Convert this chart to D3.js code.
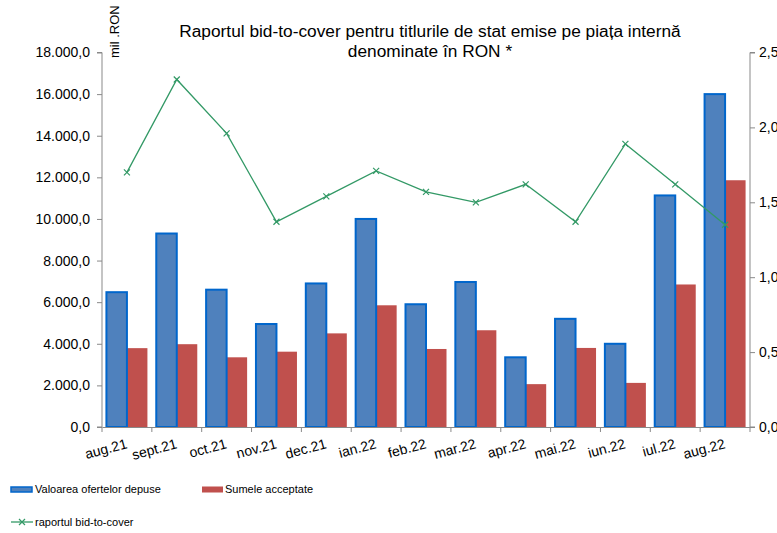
<!DOCTYPE html>
<html>
<head>
<meta charset="utf-8">
<script src="https://cdn.jsdelivr.net/npm/d3@7"></script>
<style>
  html, body { margin: 0; padding: 0; background: #fff; }
  svg { display: block; font-family: "Liberation Sans", Arial, sans-serif; }
</style>
</head>
<body>
<svg id="chart" width="777" height="533"></svg>
<script>
const categories = ["aug.21","sept.21","oct.21","nov.21","dec.21","ian.22","feb.22","mar.22","apr.22","mai.22","iun.22","iul.22","aug.22"];
const oferte = [6480, 9300, 6600, 4950, 6900, 10000, 5900, 6970, 3350, 5200, 4000, 11130, 16000];
const acceptate = [3790, 3980, 3350, 3620, 4500, 5850, 3750, 4650, 2060, 3800, 2120, 6850, 11860];
const bidToCover = [1.70, 2.32, 1.96, 1.37, 1.54, 1.71, 1.57, 1.50, 1.62, 1.37, 1.89, 1.62, 1.35];
const leftTicks = [0, 2000, 4000, 6000, 8000, 10000, 12000, 14000, 16000, 18000];
const rightTicks = [0, 0.5, 1.0, 1.5, 2.0, 2.5];
const titleLines = ["Raportul bid-to-cover pentru titlurile de stat emise pe piața internă", "denominate în RON *"];
const unitLabel = "mil .RON";
const seriesNames = ["Valoarea ofertelor depuse", "Sumele acceptate", "raportul bid-to-cover"];

(function () {
const svg = d3.select("#chart");
const pLeft = 102, pRight = 750, pTop = 52.5, pBottom = 427;
const axisColor = "#898989";
const blueFill = "#4F81BD", blueStroke = "#0066CC", redFill = "#C0504D", green = "#339966";

const loc = d3.formatLocale({decimal: ",", thousands: ".", grouping: [3], currency: ["", ""]});
const fmtL = loc.format(",.1f");
const fmtR = loc.format(".1f");

const x = d3.scaleBand().domain(categories).range([pLeft, pRight]).padding(0);
const yL = d3.scaleLinear().domain([0, 18000]).range([pBottom, pTop]);
const yR = d3.scaleLinear().domain([0, 2.5]).range([pBottom, pTop]);

const barW = 20.5, off = (x.bandwidth() - 2 * barW) / 2;

// bars
const g = svg.append("g");
g.selectAll("rect.red").data(categories).join("rect")
  .attr("x", d => x(d) + off + barW)
  .attr("y", (d, i) => yL(acceptate[i]))
  .attr("width", barW)
  .attr("height", (d, i) => yL(0) - yL(acceptate[i]))
  .attr("fill", redFill);
g.selectAll("rect.blue").data(categories).join("rect")
  .attr("x", d => x(d) + off)
  .attr("y", (d, i) => yL(oferte[i]))
  .attr("width", barW)
  .attr("height", (d, i) => yL(0) - yL(oferte[i]))
  .attr("fill", blueFill)
  .attr("stroke", blueStroke)
  .attr("stroke-width", 2);

// axes
const axL = svg.append("g").attr("transform", `translate(${pLeft},0)`)
  .call(d3.axisLeft(yL).tickValues(leftTicks).tickFormat(fmtL).tickSize(5).tickPadding(7));
const axR = svg.append("g").attr("transform", `translate(${pRight},0)`)
  .call(d3.axisRight(yR).tickValues(rightTicks).tickFormat(fmtR).tickSize(5).tickPadding(4));
const axX = svg.append("g").attr("transform", `translate(0,${pBottom})`)
  .call(d3.axisBottom(x).tickSize(0).tickFormat(""));
const bounds = categories.map(c => x(c)).concat([pRight]);
axX.selectAll("line.bt").data(bounds).join("line")
  .attr("x1", d => d).attr("x2", d => d).attr("y1", 0).attr("y2", 5)
  .attr("stroke", axisColor);

[axL, axR, axX].forEach(a => {
  a.selectAll("path.domain").attr("stroke", axisColor);
  a.selectAll(".tick line").attr("stroke", axisColor);
  a.selectAll(".tick text").attr("fill", "#000").style("font-size", "14px")
    .style("font-family", '"Liberation Sans", Arial, sans-serif');
});
axL.select("path.domain").attr("d", `M-5,${pTop}H0V${pBottom}H-5`);
axR.select("path.domain").attr("d", `M5,${pTop}H0V${pBottom}H5`);

// x labels rotated
svg.append("g").selectAll("text").data(categories).join("text")
  .attr("transform", d => `translate(${x(d) + x.bandwidth() / 2 + 1},448) rotate(-15)`)
  .attr("text-anchor", "end")
  .style("font-size", "14px")
  .text(d => d);

// line
const line = d3.line().x((d, i) => x(categories[i]) + x.bandwidth() / 2).y(d => yR(d));
svg.append("path").datum(bidToCover)
  .attr("d", line).attr("fill", "none").attr("stroke", green).attr("stroke-width", 1.3);
const ms = 3;
svg.append("g").selectAll("path").data(bidToCover).join("path")
  .attr("transform", (d, i) => `translate(${x(categories[i]) + x.bandwidth() / 2},${yR(d)})`)
  .attr("d", `M${-ms},${-ms}L${ms},${ms}M${-ms},${ms}L${ms},${-ms}`)
  .attr("stroke", green).attr("stroke-width", 1.2).attr("fill", "none");

// title
svg.append("g").selectAll("text").data(titleLines).join("text")
  .attr("x", 430).attr("y", (d, i) => 37 + i * 19.5)
  .attr("text-anchor", "middle")
  .style("font-size", "17.3px")
  .text(d => d);

// unit label
svg.append("text")
  .attr("transform", "translate(119,58) rotate(-90)")
  .attr("text-anchor", "start")
  .style("font-size", "13px")
  .text(unitLabel);

// legend
const lg = svg.append("g").style("font-size", "11px");
lg.append("rect").attr("x", 11).attr("y", 487).attr("width", 21).attr("height", 5)
  .attr("fill", blueFill).attr("stroke", blueStroke).attr("stroke-width", 1.5);
lg.append("text").attr("x", 35).attr("y", 493).text(seriesNames[0]);
lg.append("rect").attr("x", 202).attr("y", 486.5).attr("width", 21).attr("height", 6)
  .attr("fill", redFill);
lg.append("text").attr("x", 225).attr("y", 493).text(seriesNames[1]);
lg.append("line").attr("x1", 11).attr("x2", 33).attr("y1", 522).attr("y2", 522)
  .attr("stroke", green).attr("stroke-width", 1.3);
lg.append("path").attr("transform", "translate(22,522)")
  .attr("d", `M${-ms},${-ms}L${ms},${ms}M${-ms},${ms}L${ms},${-ms}`)
  .attr("stroke", green).attr("stroke-width", 1.2);
lg.append("text").attr("x", 35).attr("y", 526).text(seriesNames[2]);
})();
</script>
</body>
</html>
